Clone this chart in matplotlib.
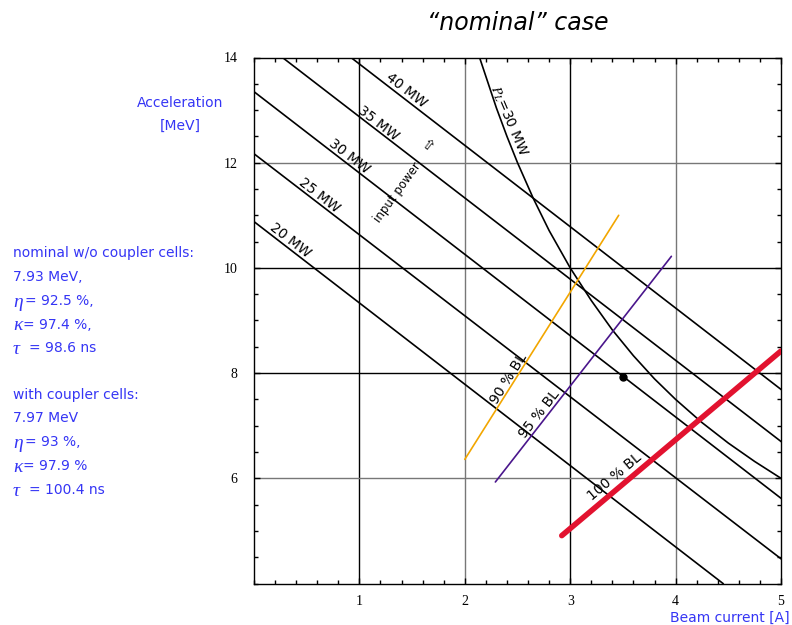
import matplotlib
matplotlib.use("Agg")
import matplotlib.pyplot as plt
from matplotlib.ticker import MultipleLocator

plt.rcParams['font.family'] = ['DejaVu Sans']
plt.rcParams['mathtext.fontset'] = 'stix'

# constant input power lines, end points (beam current [A], acceleration [MeV])
power_labels = ["20 MW", "25 MW", "30 MW", "35 MW", "40 MW"]
power_i = [[0.0, 4.45], [0.0, 5.0], [0.0, 5.0], [0.27, 5.0], [0.92, 5.0]]
power_v = [[10.88, 4.0], [12.17, 4.47], [13.35, 5.62], [14.0, 6.70], [14.0, 7.69]]

# P_L = 30 MW curve
pl_i = [2.14, 2.2, 2.3, 2.4, 2.5, 2.65, 2.8, 3.0, 3.2, 3.4, 3.6, 3.8, 4.0, 4.25, 4.5, 4.75, 5.0]
pl_v = [14.0, 13.64, 13.04, 12.5, 12.0, 11.32, 10.71, 10.0, 9.38, 8.82, 8.33, 7.89, 7.5, 7.06, 6.67, 6.32, 6.0]

# beam loading lines
bl_labels = ["90 % BL", "95 % BL", "100 % BL"]
bl_i = [[2.0, 3.46], [2.29, 3.96], [2.92, 5.0]]
bl_v = [[6.36, 11.0], [5.93, 10.22], [4.91, 8.42]]
bl_colors = ["#f2a600", "#4a168c", "#e2122f"]
bl_widths = [1.2, 1.2, 4.0]

# nominal working point
op_i = [3.5]
op_v = [7.93]

# side notes: (greek symbol, rest of the line)
notes = [("", "nominal w/o coupler cells:"), ("", "7.93 MeV,"), ("\u03b7", "= 92.5 %,"),
         ("\u03ba", "= 97.4 %,"), ("\u03c4", "= 98.6 ns"), ("", ""),
         ("", "with coupler cells:"), ("", "7.97 MeV"), ("\u03b7", "= 93 %,"),
         ("\u03ba", "= 97.9 %"), ("\u03c4", "= 100.4 ns")]
rest_x = {"": 13, "\u03b7": 25, "\u03ba": 23, "\u03c4": 29}

blue = "#3535f5"
W, H = 792, 625

fig = plt.figure(figsize=(7.92, 6.25), dpi=100)
ax = fig.add_axes([254 / W, 1 - 583.5 / H, (781 - 254) / W, (583.5 - 57.5) / H])

# grid
for x, c in zip([1, 2, 3, 4], ["black", "#777777", "black", "#777777"]):
    ax.axvline(x, color=c, lw=1, zorder=1)
for y, c in zip([12, 10, 8, 6], ["#777777", "black", "black", "#777777"]):
    ax.axhline(y, color=c, lw=1, zorder=1)

for xs, ys in zip(power_i, power_v):
    ax.plot(xs, ys, color="black", lw=1.2, zorder=2)
ax.plot(pl_i, pl_v, color="black", lw=1.2, zorder=2)
for xs, ys, c, w in zip(bl_i, bl_v, bl_colors, bl_widths):
    ax.plot(xs, ys, color=c, lw=w, solid_capstyle="round", zorder=3)
ax.plot(op_i, op_v, "o", color="black", ms=5, zorder=4)

# line labels
power_pos = [(0.30, 10.42), (0.58, 11.27), (0.86, 12.02), (1.14, 12.65), (1.40, 13.26)]
for lab, (x, y) in zip(power_labels, power_pos):
    ax.text(x, y, lab, rotation=-37.7, rotation_mode="anchor", ha="center", va="bottom",
            fontsize=10)
bl_pos = [(2.47, 7.82), (2.76, 7.13), (3.46, 5.92)]
bl_rot = [57.9, 52.0, 40.0]
for lab, (x, y), r in zip(bl_labels, bl_pos, bl_rot):
    ax.text(x, y, lab, rotation=r, rotation_mode="anchor", ha="center", va="bottom",
            fontsize=10)
ax.text(2.35, 12.75, r"$P_L$=30 MW", rotation=-67, rotation_mode="anchor",
        ha="center", va="bottom", fontsize=10)
ax.text(1.36, 11.43, "input power", rotation=54, rotation_mode="anchor",
        ha="center", va="center", fontsize=8.5)
ax.text(1.64, 12.31, "\u21e7", rotation=-37.7, rotation_mode="anchor",
        ha="center", va="center", fontsize=11)

ax.set_xlim(0, 5)
ax.set_ylim(4, 14)
ax.set_xticks([1, 2, 3, 4, 5])
ax.set_yticks([6, 8, 10, 12, 14])
ax.xaxis.set_minor_locator(MultipleLocator(0.2))
ax.yaxis.set_minor_locator(MultipleLocator(0.5))
ax.tick_params(which="both", direction="in", top=True, right=True, width=1,
               labelsize=10, labelfontfamily="Liberation Serif")
ax.tick_params(which="major", length=4)
ax.tick_params(which="minor", length=3)
ax.tick_params(axis="y", pad=12)
ax.tick_params(axis="x", pad=8)
for s in ax.spines.values():
    s.set_linewidth(1)

fig.text(518 / W, 1 - 23 / H, "\u201cnominal\u201d case", style="italic", fontsize=17,
         ha="center", va="center")
fig.text(180 / W, 1 - 103 / H, "Acceleration", color=blue, fontsize=10, ha="center", va="center")
fig.text(180 / W, 1 - 126 / H, "[MeV]", color=blue, fontsize=10, ha="center", va="center")
fig.text(790 / W, 1 - 618 / H, "Beam current [A]", color=blue, fontsize=10, ha="right", va="center")

ys = [253, 277, 301, 325, 348, 372, 395, 418, 442, 466, 490]
for (g, t), y in zip(notes, ys):
    if g:
        fig.text(13 / W, 1 - (y + 1) / H, g, color=blue, fontsize=14, style="italic",
                 family="Liberation Serif", ha="left", va="center")
    if t:
        fig.text(rest_x[g] / W, 1 - y / H, t, color=blue, fontsize=10, ha="left", va="center")

fig.savefig("out.png", dpi=100)
